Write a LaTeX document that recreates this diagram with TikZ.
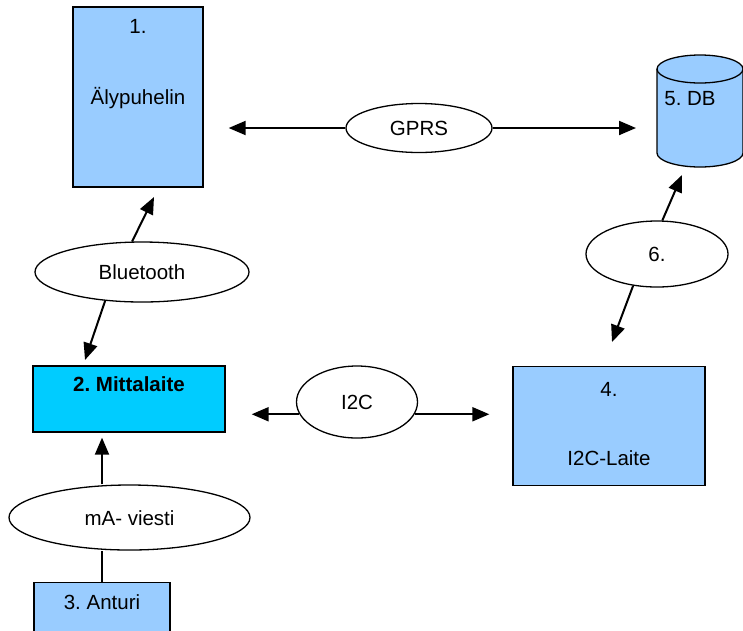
\documentclass[tikz,border=0pt]{standalone}
\usepackage{fontspec}
\setmainfont{Liberation Sans}
\usepackage{tikz}
\usetikzlibrary{positioning,arrows.meta,calc,shapes.geometric}
\definecolor{lightblue}{HTML}{99CCFF}
\definecolor{cyanblue}{HTML}{00CCFF}
\frenchspacing

\tikzset{
  bluebox/.style={rectangle,draw=black,line width=1.3pt,fill=lightblue,inner sep=0pt},
  linkoval/.style={ellipse,draw=black,line width=1.3pt,fill=white,inner sep=0pt,
    text height=15pt,text depth=0pt},
  dbshape/.style={draw=black,line width=1.3pt,fill=lightblue},
  arr/.style={line width=2pt,-{Triangle[length=17pt,width=14pt]}},
  plain/.style={line width=2pt}
}

\begin{document}
\begin{tikzpicture}[x=1pt,y=-1pt,font=\fontsize{20.5}{24}\selectfont]
        \useasboundingbox (0,0) rectangle (743,630);
        % devices
        \node[bluebox,minimum width=130pt,minimum height=180pt] (aly) at (138,97) {};
        \node[anchor=base] (alynum) at ($(aly.north)+(0,27)$) {1.};
        \node[anchor=base] (alyname) at ($(aly.north)+(0,98)$) {Älypuhelin};
        \node[bluebox,fill=cyanblue,minimum width=192pt,minimum height=66pt] (mit) at (129,399) {};
        \node[anchor=base,font=\fontsize{20.5}{24}\selectfont\bfseries] (mitname) at ($(mit.north)+(0,26)$) {2. Mittalaite};
        \node[bluebox,minimum width=192pt,minimum height=119pt] (lai) at (609,426) {};
        \node[anchor=base] (lainum) at ($(lai.north)+(0,31)$) {4.};
        \node[anchor=base] (lainame) at ($(lai.north)+(0,100)$) {I2C-Laite};
        \node[bluebox,minimum width=136pt,minimum height=60pt,anchor=north] (ant) at (102,582) {};
        \node[anchor=base] (antname) at ($(ant.north)+(0,27)$) {3. Anturi};
        % database cylinder
        \draw[dbshape] (657,69) -- (657,153)
          arc[start angle=180,end angle=360,x radius=43pt,y radius=14pt] -- (743,69);
        \draw[dbshape] (700,69) ellipse[x radius=43pt,y radius=14pt];
        \coordinate (dbleft) at (657,111);
        \node[anchor=base] (dbname) at (690,105) {5. DB};
        % links
        \node[linkoval,minimum width=146pt,minimum height=49pt] (gprs) at (419,128) {GPRS};
        \node[linkoval,minimum width=214pt,minimum height=60pt] (bt) at (142,272) {Bluetooth};
        \node[linkoval,minimum width=121pt,minimum height=72pt] (i2c) at (357,402) {I2C};
        \node[linkoval,minimum width=142pt,minimum height=66pt] (six) at (657,254) {6.};
        \node[linkoval,minimum width=241pt,minimum height=65pt] (ma) at (129.5,517.5) {mA- viesti};
        % arrow tips
        \coordinate (btup) at (154,197);
        \coordinate (btdown) at (85,360);
        \coordinate (sixup) at (682,175);
        \coordinate (sixdown) at (612,342);
        % connectors
        \draw[arr,shorten >=25pt] (gprs.west) -- (gprs.west -| aly.east);
        \draw[arr,shorten >=21pt] (gprs.east) -- (gprs.east -| dbleft);
        \draw[arr,shorten >=26pt] (i2c.192) -- (i2c.192 -| mit.east);
        \draw[arr,shorten >=23pt] (i2c.-12) -- (i2c.-12 -| lai.west);
        \draw[arr] (bt.108) -- (btup);
        \draw[arr] (bt.218) -- (btdown);
        \draw[arr] (six.81) -- (sixup);
        \draw[arr] (six.233) -- (sixdown);
        \draw[arr,shorten >=5pt] (ant.north |- ma.north) -- (ant.north |- mit.south);
        \draw[plain] (ant.north) -- (ant.north |- ma.south);
      \end{tikzpicture}
\end{document}
